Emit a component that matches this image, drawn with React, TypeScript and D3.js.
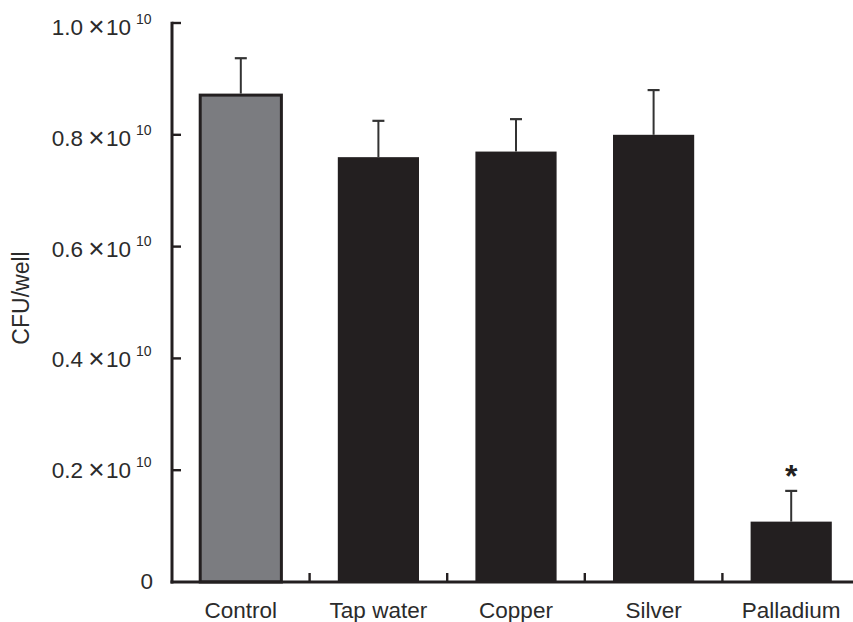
import React, { useRef, useEffect } from 'react';
import * as d3 from 'd3';

// values in units of 10^10 CFU/well
const categories = ['Control', 'Tap water', 'Copper', 'Silver', 'Palladium'];
const means = [0.871, 0.76, 0.77, 0.8, 0.108];
const errors = [0.066, 0.065, 0.058, 0.08, 0.055];
const significant = [false, false, false, false, true];
const yTicks = [0, 0.2, 0.4, 0.6, 0.8, 1.0];
const yTickLabels = ['0', '0.2', '0.4', '0.6', '0.8', '1.0'];

const App = () => {
  const svgRef = useRef<SVGSVGElement | null>(null);

  useEffect(() => {
    if (!svgRef.current) return;
    const svg = d3.select(svgRef.current);
    svg.selectAll('*').remove();

    const width = 853;
    const height = 622;
    const ink = '#231f20';
    const textInk = '#2b2b2b';
    const font = '"Liberation Sans", Arial, sans-serif';

    const x = d3.scaleBand<string>()
      .domain(categories)
      .range([172, 860])
      .paddingInner(0.41)
      .paddingOuter(0.205);

    const y = d3.scaleLinear().domain([0, 1]).range([582, 23]);

    svg.attr('width', width).attr('height', height);

    // bars
    svg.selectAll('.bar')
      .data(categories)
      .enter()
      .append('rect')
      .attr('class', 'bar')
      .attr('x', d => x(d)!)
      .attr('y', (d, i) => y(means[i]))
      .attr('width', x.bandwidth())
      .attr('height', (d, i) => y(0) - y(means[i]))
      .attr('fill', (d, i) => (i === 0 ? '#7b7c80' : ink))
      .attr('stroke', (d, i) => (i === 0 ? ink : 'none'))
      .attr('stroke-width', 3);

    // error bars + significance mark
    categories.forEach((c, i) => {
      const cx = x(c)! + x.bandwidth() / 2;
      const top = y(means[i] + errors[i]);
      svg.append('line')
        .attr('x1', cx).attr('x2', cx)
        .attr('y1', y(means[i]) - (i === 0 ? 1.5 : 0))
        .attr('y2', top)
        .attr('stroke', '#333').attr('stroke-width', 2);
      svg.append('line')
        .attr('x1', cx - 6).attr('x2', cx + 6)
        .attr('y1', top).attr('y2', top)
        .attr('stroke', '#333').attr('stroke-width', 2.2);
      if (significant[i]) {
        svg.append('text')
          .attr('x', cx)
          .attr('y', top - 4)
          .attr('text-anchor', 'middle')
          .attr('font-family', font)
          .attr('font-weight', 'bold')
          .attr('font-size', 32)
          .attr('fill', ink)
          .text('*');
      }
    });

    // y axis
    svg.append('line')
      .attr('x1', 172).attr('x2', 172)
      .attr('y1', y(1) - 1.2).attr('y2', y(0) + 1.5)
      .attr('stroke', ink).attr('stroke-width', 3);

    yTicks.forEach((t, i) => {
      const base = y(t) + 7 + 5 * t;
      if (t === 0) {
        svg.append('text')
          .attr('x', 153).attr('y', base)
          .attr('text-anchor', 'end')
          .attr('font-family', font).attr('font-size', 22.5)
          .attr('fill', textInk)
          .text(yTickLabels[i]);
        return;
      }
      svg.append('line')
        .attr('x1', 172).attr('x2', 181)
        .attr('y1', y(t)).attr('y2', y(t))
        .attr('stroke', ink).attr('stroke-width', 2.4);
      const g = svg.append('g')
        .attr('font-family', font)
        .attr('fill', textInk);
      g.append('text')
        .attr('x', 83).attr('y', base)
        .attr('text-anchor', 'end').attr('font-size', 22.5)
        .text(yTickLabels[i]);
      g.append('text')
        .attr('x', 96.5).attr('y', base + 1)
        .attr('text-anchor', 'middle').attr('font-size', 28)
        .attr('font-weight', 300)
        .text('\u00d7');
      g.append('text')
        .attr('x', 106).attr('y', base)
        .attr('text-anchor', 'start').attr('font-size', 22.5)
        .text('10');
      g.append('text')
        .attr('x', 136).attr('y', base - 11)
        .attr('text-anchor', 'start').attr('font-size', 14)
        .text('10');
    });

    // x axis
    svg.append('line')
      .attr('x1', 170.5).attr('x2', width)
      .attr('y1', y(0)).attr('y2', y(0))
      .attr('stroke', ink).attr('stroke-width', 3);

    categories.slice(0, -1).forEach(c => {
      const tx = x(c)! + x.bandwidth() / 2 + x.step() / 2;
      svg.append('line')
        .attr('x1', tx).attr('x2', tx)
        .attr('y1', y(0)).attr('y2', y(0) - 9)
        .attr('stroke', ink).attr('stroke-width', 2.4);
    });

    svg.selectAll('.xlabel')
      .data(categories)
      .enter()
      .append('text')
      .attr('class', 'xlabel')
      .attr('x', d => x(d)! + x.bandwidth() / 2)
      .attr('y', 618)
      .attr('text-anchor', 'middle')
      .attr('font-family', font)
      .attr('font-size', 22.5)
      .attr('fill', textInk)
      .text(d => d);

    // y title
    svg.append('text')
      .attr('transform', 'translate(29, 298) rotate(-90)')
      .attr('text-anchor', 'middle')
      .attr('font-family', font)
      .attr('font-size', 23)
      .attr('fill', textInk)
      .text('CFU/well');
  }, []);

  return (
    <div style={{ position: 'absolute', left: 0, top: 0 }}>
      <svg ref={svgRef} style={{ display: 'block', background: '#fff' }}></svg>
    </div>
  );
};

export default App;
